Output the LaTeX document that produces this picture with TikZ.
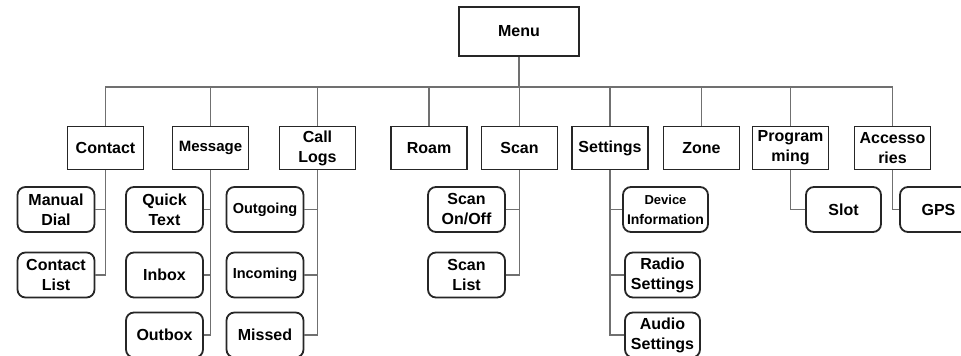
\documentclass[tikz,border=0pt]{standalone}
\usepackage{fontspec}
\setmainfont{Liberation Sans}
\usepackage{tikz}
\usetikzlibrary{positioning}
\definecolor{linkgray}{RGB}{112,112,112}
\tikzset{
    topbox/.style={draw=black!85, line width=1.8pt, minimum width=76pt, minimum height=43pt, inner sep=1pt, align=center, font=\fontsize{16}{20}\selectfont\bfseries},
    subbox/.style={draw=black!85, line width=1.8pt, rounded corners=8pt, minimum width=77pt, minimum height=45pt, inner sep=1pt, align=center, font=\fontsize{16}{20}\selectfont\bfseries},
    smalltext/.style={font=\fontsize{14.5}{20}\selectfont\bfseries},
    link/.style={draw=linkgray, line width=1.7pt}
}
\begin{document}
\begin{tikzpicture}[x=1pt, y=-1pt]
    \useasboundingbox (0,0) rectangle (961,356);
    \node[topbox, minimum width=120pt, minimum height=49pt] (menu) at (519,31.5) {Menu};
    \coordinate (bus) at (519,87);
    % first level
    \node[topbox] (contact) at (105.5,148) {Contact};
    \node[topbox, font=\fontsize{15}{20}\selectfont\bfseries] (message) at (210.5,148) {Message};
    \node[topbox] (calllogs) at (317.5,148) {Call\\Logs};
    \node[topbox] (roam) at (429,148) {Roam};
    \node[topbox] (scan) at (519.5,148) {Scan};
    \node[topbox] (settings) at (610,148) {Settings};
    \node[topbox] (zone) at (701.5,148) {Zone};
    \node[topbox] (programming) at (790.5,148) {Program\\ming};
    \node[topbox] (accessories) at (892.5,148) {Accesso\\ries};
    % second level
    \node[subbox] (manualdial) at (56,209.5) {Manual\\Dial};
    \node[subbox] (contactlist) at (56,275) {Contact\\List};
    \node[subbox] (quicktext) at (164.5,209.5) {Quick\\Text};
    \node[subbox] (inbox) at (164.5,275) {Inbox};
    \node[subbox] (outbox) at (164.5,335) {Outbox};
    \node[subbox, smalltext] (outgoing) at (265,209.5) {Outgoing};
    \node[subbox, smalltext] (incoming) at (265,275) {Incoming};
    \node[subbox] (missed) at (265,335) {Missed};
    \node[subbox] (scanonoff) at (466.5,209.5) {Scan\\On/Off};
    \node[subbox] (scanlist) at (466.5,275) {Scan\\List};
    \node[subbox, minimum width=85pt, font=\fontsize{14}{20}\selectfont\bfseries] (deviceinfo) at (665.5,209.5) {{\fontsize{13}{20}\selectfont Device}\\Information};
    \node[subbox, minimum width=75pt] (radiosettings) at (662.5,275) {Radio\\Settings};
    \node[subbox, minimum width=75pt] (audiosettings) at (662.5,335) {Audio\\Settings};
    \node[subbox, minimum width=75pt] (slot) at (843.5,209.5) {Slot};
    \node[subbox] (gps) at (938.5,209.5) {GPS};
    % connectors
    \draw[link] (menu.south) -- (bus);
    \foreach \n in {contact,message,calllogs,roam,scan,settings,zone,programming,accessories}
        \draw[link] (\n.north) |- (bus);
    \draw[link] (contact.south) |- (manualdial.east);
    \draw[link] (contact.south) |- (contactlist.east);
    \foreach \n in {quicktext,inbox,outbox}
        \draw[link] (message.south) |- (\n.east);
    \foreach \n in {outgoing,incoming,missed}
        \draw[link] (calllogs.south) |- (\n.east);
    \draw[link] (scan.south) |- (scanonoff.east);
    \draw[link] (scan.south) |- (scanlist.east);
    \foreach \n in {deviceinfo,radiosettings,audiosettings}
        \draw[link] (settings.south) |- (\n.west);
    \draw[link] (programming.south) |- (slot.west);
    \draw[link] (accessories.south) |- (gps.west);
\end{tikzpicture}
\end{document}
